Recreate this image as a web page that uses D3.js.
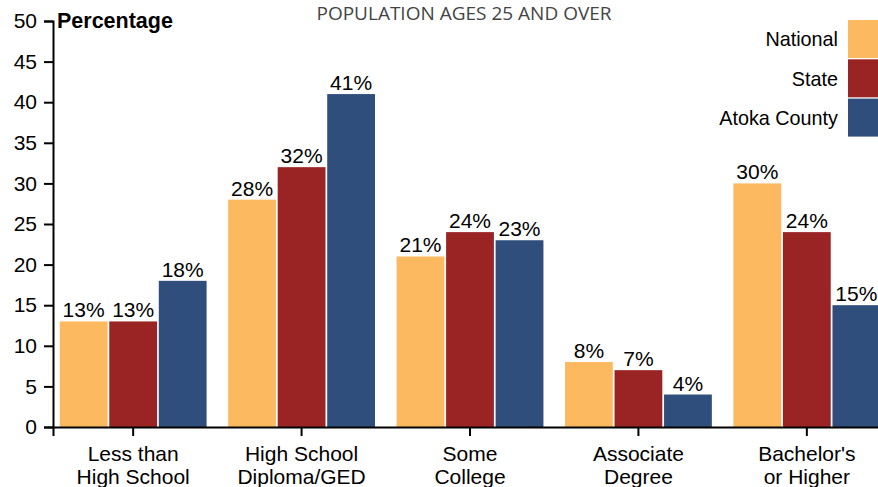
<!DOCTYPE html>
<html><head><meta charset="utf-8">
<script src="https://cdn.jsdelivr.net/npm/d3@7"></script>
<style>body{margin:0;background:#fff;overflow:hidden}svg{display:block}</style>
</head><body>
<script>
const categories = [["Less than","High School"],["High School","Diploma/GED"],["Some","College"],["Associate","Degree"],["Bachelor's","or Higher"]];
const seriesNames = ["National","State","Atoka County"];
const national = [13,28,21,8,30];
const state = [13,32,24,7,24];
const county = [18,41,23,4,15];
const yTicks = [0,5,10,15,20,25,30,35,40,45,50];
const colors = ["#fdb95f","#9a2424","#2f4e7c"];
const values = [national, state, county];

const W=878,H=487;
const svg=d3.select("body").append("svg").attr("width",W).attr("height",H);
const y=d3.scaleLinear().domain([0,50]).range([427,21]);
const catIdx=categories.map((c,i)=>i);
const x=d3.scaleBand().domain(catIdx).range([53,887]).paddingInner(0.128).paddingOuter(0.04);
const xi=d3.scaleBand().domain([0,1,2]).range([0,x.bandwidth()]).paddingInner(0.035);
const font="'Liberation Sans', Arial, sans-serif";

// bars
catIdx.forEach(ci=>{
  values.forEach((arr,si)=>{
    const v=arr[ci];
    svg.append("rect").attr("x",x(ci)+xi(si)).attr("width",xi.bandwidth())
      .attr("y",y(v)).attr("height",y(0)-y(v)).attr("fill",colors[si]);
    svg.append("text").attr("x",x(ci)+xi(si)+xi.bandwidth()/2).attr("y",y(v)-4)
      .attr("text-anchor","middle").attr("font-family",font).attr("font-size",21)
      .attr("fill","#000").text(v+"%");
  });
});

// y axis
const ya=svg.append("g").attr("transform","translate(53,0)")
  .call(d3.axisLeft(y).tickValues(yTicks).tickSize(9).tickSizeOuter(9));
ya.selectAll("path,line").attr("stroke","#000").attr("stroke-width",2);
ya.selectAll("text").attr("font-family",font).attr("font-size",21).attr("fill","#000").attr("x",-16);

// x axis
const xa=svg.append("g").attr("transform","translate(0,427)")
  .call(d3.axisBottom(x).tickSize(9).tickSizeOuter(9).tickFormat(""));
xa.selectAll("path,line").attr("stroke","#000").attr("stroke-width",2);
catIdx.forEach(ci=>{
  const t=svg.append("text").attr("text-anchor","middle").attr("font-family",font).attr("font-size",21).attr("fill","#000");
  categories[ci].forEach((line,li)=>{
    t.append("tspan").attr("x",x(ci)+x.bandwidth()/2).attr("y",461+li*23).text(line);
  });
});

// y label
svg.append("text").attr("x",57).attr("y",28).attr("font-family",font).attr("font-size",21.5)
  .attr("font-weight","bold").attr("fill","#000").text("Percentage");

// title
svg.append("text").attr("x",464).attr("y",20).attr("text-anchor","middle")
  .attr("font-family","'Open Sans', sans-serif").attr("font-size",19).attr("fill","#444")
  .text("POPULATION AGES 25 AND OVER");

// legend
seriesNames.forEach((n,i)=>{
  svg.append("rect").attr("x",848).attr("y",20+i*39.3).attr("width",40).attr("height",38).attr("fill",colors[i]);
  svg.append("text").attr("x",838).attr("y",46+i*39.5).attr("text-anchor","end")
    .attr("font-family",font).attr("font-size",19.8).attr("fill","#000").text(n);
});
</script>
</body></html>
